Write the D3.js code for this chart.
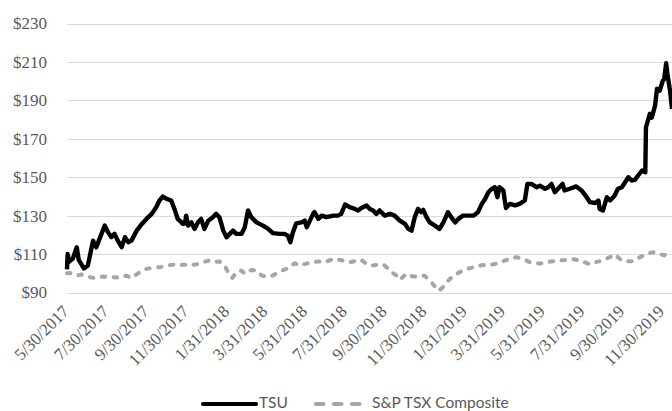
<!DOCTYPE html>
<html>
<head>
<meta charset="utf-8">
<script src="https://cdn.jsdelivr.net/npm/d3@7"></script>
<style>
  html, body { margin: 0; padding: 0; background: #fff; }
  svg { display: block; }
</style>
</head>
<body>
<svg id="chart" width="672" height="411"></svg>
<script>
// ---- DATA ----
const tsuSeries = [
  ["2017-05-30",102],["2017-05-31",110],["2017-06-02",106],["2017-06-08",107.7],["2017-06-14",113.5],
  ["2017-06-17",107],["2017-06-25",102.5],["2017-07-01",104],["2017-07-09",117],["2017-07-14",113.5],
  ["2017-07-19",118],["2017-07-27",124.8],["2017-08-01",121.4],["2017-08-06",118.8],["2017-08-11",120.5],
  ["2017-08-16",117],["2017-08-22",113.6],["2017-08-27",118.8],["2017-09-01",116.2],["2017-09-06",117],
  ["2017-09-14",122.2],["2017-09-22",125.7],["2017-09-29",128.3],["2017-10-07",130.9],["2017-10-14",134.4],
  ["2017-10-19",137.9],["2017-10-24",139.9],["2017-10-30",138.7],["2017-11-06",137.9],["2017-11-11",133.5],
  ["2017-11-16",128.3],["2017-11-19",127.5],["2017-11-24",125.7],["2017-11-27",126],["2017-11-29",130],
  ["2017-12-02",124.8],["2017-12-07",126.5],["2017-12-12",123.1],["2017-12-17",126.5],["2017-12-22",128.3],
  ["2017-12-27",123.1],["2018-01-02",127.4],["2018-01-09",129.2],["2018-01-14",130.9],["2018-01-19",129.2],
  ["2018-01-25",122.2],["2018-01-30",118.8],["2018-02-04",120.5],["2018-02-09",122.2],["2018-02-14",120.5],
  ["2018-02-22",120.5],["2018-02-27",124],["2018-03-04",132.7],["2018-03-09",129.2],["2018-03-17",126.5],
  ["2018-03-27",124.8],["2018-04-04",123.1],["2018-04-11",120.9],["2018-04-22",120.5],["2018-04-29",120.5],
  ["2018-05-04",119.6],["2018-05-08",116.2],["2018-05-12",121.4],["2018-05-17",126],["2018-05-25",126.5],
  ["2018-05-30",127.4],["2018-06-02",124],["2018-06-07",127.4],["2018-06-12",130.9],["2018-06-14",131.8],
  ["2018-06-20",128.3],["2018-06-25",130],["2018-07-02",129.2],["2018-07-13",130],["2018-07-20",130],
  ["2018-07-25",130.9],["2018-07-31",135.8],["2018-08-07",134.4],["2018-08-15",133.5],["2018-08-20",132.7],
  ["2018-08-25",134],["2018-09-02",135.3],["2018-09-07",133.5],["2018-09-12",132.7],["2018-09-17",130.9],
  ["2018-09-22",132.7],["2018-09-30",130],["2018-10-08",130.9],["2018-10-15",130],["2018-10-23",127.4],
  ["2018-10-31",125.7],["2018-11-05",123.1],["2018-11-10",122.2],["2018-11-15",129.2],["2018-11-20",133.5],
  ["2018-11-25",131.8],["2018-11-28",133],["2018-12-03",129.2],["2018-12-08",126.5],["2018-12-16",124.8],
  ["2018-12-23",123.1],["2018-12-29",126.5],["2019-01-05",131.8],["2019-01-10",129.2],["2019-01-16",126.5],
  ["2019-01-21",128.3],["2019-01-28",130],["2019-02-05",130],["2019-02-13",130],["2019-02-20",131.8],
  ["2019-02-26",136.1],["2019-03-03",138.7],["2019-03-08",142.2],["2019-03-13",143.9],["2019-03-18",144.8],
  ["2019-03-22",139.6],["2019-03-25",144.8],["2019-03-31",143.1],["2019-04-04",134],["2019-04-10",136.1],
  ["2019-04-18",135.3],["2019-04-25",136.1],["2019-05-03",137.9],["2019-05-07",146.5],["2019-05-13",146.5],
  ["2019-05-21",144.8],["2019-05-26",145.6],["2019-06-03",144],["2019-06-08",144.8],["2019-06-13",146.5],
  ["2019-06-18",142.2],["2019-06-23",144],["2019-06-30",146.5],["2019-07-03",143.1],["2019-07-11",144],
  ["2019-07-21",145.2],["2019-07-29",143.1],["2019-08-06",139.6],["2019-08-11",137],["2019-08-19",136.6],
  ["2019-08-24",137.9],["2019-08-26",133.5],["2019-08-31",132.7],["2019-09-06",139.6],["2019-09-11",137.9],
  ["2019-09-18",140.5],["2019-09-23",144],["2019-09-29",144.8],["2019-10-04",147.4],["2019-10-09",150],
  ["2019-10-14",148.3],["2019-10-19",148.6],["2019-10-24",150.9],["2019-10-30",153.5],["2019-11-04",152.6],
  ["2019-11-05",176],["2019-11-11",183],["2019-11-14",181],["2019-11-19",187.3],["2019-11-22",196],
  ["2019-11-26",195],["2019-12-01",200.3],["2019-12-03",201],["2019-12-06",209.3],["2019-12-08",203.7],
  ["2019-12-12",195],["2019-12-15",185.5]
];

const tsxSeries = [
  ["2017-05-30",100],["2017-06-03",100.2],["2017-06-14",98.8],["2017-06-21",99.4],["2017-07-01",98.3],
  ["2017-07-09",97.6],["2017-07-24",98.3],["2017-08-09",98],["2017-08-19",97.6],["2017-08-29",98.8],
  ["2017-09-06",97.6],["2017-09-19",100.6],["2017-09-29",102.3],["2017-10-12",103.1],["2017-10-19",103.1],
  ["2017-10-30",104],["2017-11-09",104.5],["2017-11-19",104],["2017-11-24",104.5],["2017-12-09",104.4],
  ["2017-12-17",104.8],["2018-01-02",106.6],["2018-01-09",105.7],["2018-01-19",106.2],["2018-01-27",104],
  ["2018-02-04",98.8],["2018-02-08",97.6],["2018-02-14",100.6],["2018-02-22",101.4],["2018-02-27",99.7],
  ["2018-03-09",101.7],["2018-03-17",101.4],["2018-03-25",98.8],["2018-04-01",98.3],["2018-04-11",98.8],
  ["2018-04-22",101],["2018-05-02",102.3],["2018-05-15",105.2],["2018-05-22",104],["2018-05-30",104.8],
  ["2018-06-09",105.7],["2018-06-20",106.2],["2018-06-30",105.7],["2018-07-13",107.5],["2018-07-28",106.6],
  ["2018-08-07",105.7],["2018-08-18",106.6],["2018-08-25",107],["2018-09-02",104.8],["2018-09-10",104],
  ["2018-09-25",104.8],["2018-09-30",104],["2018-10-10",100.6],["2018-10-18",98.8],["2018-10-23",96.6],
  ["2018-11-02",99.7],["2018-11-12",98.3],["2018-11-23",98.3],["2018-11-30",98.8],["2018-12-08",96.2],
  ["2018-12-13",94.4],["2018-12-20",91],["2018-12-26",91.9],["2019-01-03",95.3],["2019-01-13",98.8],
  ["2019-01-23",100.6],["2019-02-03",102.3],["2019-02-13",103.1],["2019-02-23",104],["2019-03-05",104.5],
  ["2019-03-13",104.5],["2019-03-23",105.2],["2019-04-02",106.6],["2019-04-10",107.5],["2019-04-20",108.4],
  ["2019-04-30",107.5],["2019-05-11",105.7],["2019-05-18",105.7],["2019-05-26",105],["2019-06-05",105.7],
  ["2019-06-21",106.6],["2019-07-03",106.9],["2019-07-14",107.5],["2019-07-27",106.6],["2019-08-03",105.7],
  ["2019-08-11",104.6],["2019-08-19",105.7],["2019-08-29",106.6],["2019-09-11",108.4],["2019-09-18",109.8],
  ["2019-09-29",106.6],["2019-10-06",106.2],["2019-10-16",106.2],["2019-10-27",108.4],["2019-11-06",110.1],
  ["2019-11-16",111],["2019-11-26",110.1],["2019-12-03",109.3],["2019-12-09",111],["2019-12-15",111.5]
];

const yTicks = [90, 110, 130, 150, 170, 190, 210, 230];
const xTickLabels = ["5/30/2017","7/30/2017","9/30/2017","11/30/2017","1/31/2018","3/31/2018",
  "5/31/2018","7/31/2018","9/30/2018","11/30/2018","1/31/2019","3/31/2019","5/31/2019",
  "7/31/2019","9/30/2019","11/30/2019"];
const seriesNames = ["TSU", "S&P TSX Composite"];

// ---- DRAW ----
const parseISO = d3.timeParse("%Y-%m-%d");
const parseUS = d3.timeParse("%m/%d/%Y");
const fmtUS = d3.timeFormat("%-m/%-d/%Y");

const tsu = tsuSeries.map(([d, v]) => ({ date: parseISO(d), value: v }));
const tsx = tsxSeries.map(([d, v]) => ({ date: parseISO(d), value: v }));

const svg = d3.select("#chart");
const plotLeft = 67, plotRight = 672, plotTop = 23.5, plotBottom = 292.5;

const x = d3.scaleTime()
  .domain([parseISO("2017-05-30"), parseISO("2019-12-15")])
  .range([plotLeft, plotRight]);
const y = d3.scaleLinear().domain([90, 230]).range([plotBottom, plotTop]);

// gridlines
svg.append("g").selectAll("line").data(yTicks).join("line")
  .attr("x1", plotLeft).attr("x2", 700)
  .attr("y1", d => Math.round(y(d)) + 0.5).attr("y2", d => Math.round(y(d)) + 0.5)
  .attr("stroke", "#d9d9d9").attr("stroke-width", 1);

// y axis labels
const yAxis = d3.axisLeft(y).tickValues(yTicks).tickSize(0).tickPadding(0)
  .tickFormat(d => "$" + d);
const yg = svg.append("g").attr("transform", `translate(${47},0)`).call(yAxis);
yg.select(".domain").remove();
yg.selectAll("text")
  .attr("font-family", "'Liberation Serif', 'Times New Roman', serif")
  .attr("font-size", 17).attr("fill", "#595959");

// x axis labels
const xTicks = xTickLabels.map(s => parseUS(s));
const xAxis = d3.axisBottom(x).tickValues(xTicks).tickSize(0).tickFormat(fmtUS);
const xg = svg.append("g").attr("transform", `translate(0,${plotBottom})`).call(xAxis);
xg.select(".domain").remove();
xg.selectAll("text")
  .attr("font-family", "'Liberation Serif', 'Times New Roman', serif")
  .attr("font-size", 17).attr("fill", "#595959")
  .attr("text-anchor", "end").attr("dy", null).attr("y", null)
  .attr("transform", "translate(2.5,20) rotate(-45)");

// lines
const line = d3.line().x(d => x(d.date)).y(d => y(d.value));
svg.append("path").datum(tsx)
  .attr("d", line).attr("fill", "none")
  .attr("stroke", "#a6a6a6").attr("stroke-width", 4)
  .attr("stroke-linecap", "round").attr("stroke-linejoin", "round")
  .attr("stroke-dasharray", "3.5,8.5");
svg.append("path").datum(tsu)
  .attr("d", line).attr("fill", "none")
  .attr("stroke", "#000").attr("stroke-width", 4.4)
  .attr("stroke-linejoin", "round").attr("stroke-linecap", "butt");

// legend
const legend = svg.append("g");
const legendItems = [
  { name: seriesNames[0], x1: 203, x2: 256, stroke: "#000", dash: null, cap: "round", tx: 259 },
  { name: seriesNames[1], x1: 316, x2: 360, stroke: "#a6a6a6", dash: "7.5,10.5", cap: "round", tx: 372 }
];
legendItems.forEach(it => {
  legend.append("line").attr("x1", it.x1).attr("x2", it.x2).attr("y1", 404).attr("y2", 404)
    .attr("stroke", it.stroke).attr("stroke-width", 4.2)
    .attr("stroke-linecap", it.cap).attr("stroke-dasharray", it.dash);
  legend.append("text").attr("x", it.tx).attr("y", 407.5)
    .attr("font-family", "Lato, 'Open Sans', sans-serif").attr("font-size", 15.5)
    .attr("fill", "#595959").text(it.name);
});
</script>
</body>
</html>
